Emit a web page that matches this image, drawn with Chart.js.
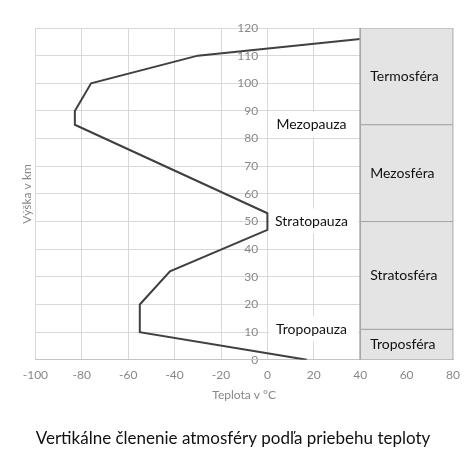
<!DOCTYPE html>
<html>
<head>
<meta charset="utf-8">
<script src="https://cdn.jsdelivr.net/npm/chart.js@4.4.1/dist/chart.umd.min.js"></script>
<style>
  html, body { margin: 0; padding: 0; background: #fff; }
  #wrap { width: 474px; height: 474px; }
</style>
</head>
<body>
<div id="wrap"><canvas id="atmoChart"></canvas></div>
<script>
// Temperature profile (x = temperature in °C, y = height in km)
const heights = [0, 10, 20, 32, 47, 53, 85, 90, 100, 110, 116];
const temps = [17, -55, -55, -42, 0, 0, -83, -83, -76, -30, 40];

// Atmosphere layers and their height bounds (km)
const layerNames = ['Troposféra', 'Stratosféra', 'Mezosféra', 'Termosféra'];
const layerBounds = [0, 11, 50, 85, 120];
const pauseNames = ['Tropopauza', 'Stratopauza', 'Mezopauza'];

// Axis ticks
const xTicks = [-100, -80, -60, -40, -20, 0, 20, 40, 60, 80];
const yTicks = [0, 10, 20, 30, 40, 50, 60, 70, 80, 90, 100, 110, 120];

const BOX_LEFT = 40;
const BOX_RIGHT = 80;
const LABEL_FONT = '14px Lato';

const profile = heights.map((h, i) => ({ x: temps[i], y: h }));

// One closed rectangle per layer, filled as a shape
const layerSets = layerNames.map((name, i) => {
    const lo = layerBounds[i];
    const hi = layerBounds[i + 1];
    return {
        label: name,
        data: [
            { x: BOX_LEFT, y: lo }, { x: BOX_RIGHT, y: lo },
            { x: BOX_RIGHT, y: hi }, { x: BOX_LEFT, y: hi },
            { x: BOX_LEFT, y: lo }
        ],
        showLine: true,
        fill: 'shape',
        backgroundColor: '#e4e4e4',
        borderColor: '#a5a5a5',
        borderWidth: 1,
        pointRadius: 0,
        tension: 0,
        yAxisID: 'y'
    };
});

// Text labels for layers and pauses
const labelPlugin = {
    id: 'layerLabels',
    beforeDatasetsDraw(chart) {
        const { ctx, scales: { x, y } } = chart;
        ctx.save();
        ctx.fillStyle = '#ffffff';
        pauseNames.forEach((name, i) => {
            const py = y.getPixelForValue(layerBounds[i + 1]);
            const left = x.getPixelForValue(0) + 2;
            const right = x.getPixelForValue(BOX_LEFT) - 2;
            ctx.fillRect(left, py - 13, right - left, 25);
        });
        ctx.restore();
    },
    afterDatasetsDraw(chart) {
        const { ctx, scales: { x, y } } = chart;
        ctx.save();
        ctx.font = LABEL_FONT;
        ctx.fillStyle = '#111111';
        ctx.textBaseline = 'middle';

        ctx.textAlign = 'left';
        layerNames.forEach((name, i) => {
            const mid = (layerBounds[i] + layerBounds[i + 1]) / 2;
            ctx.fillText(name, x.getPixelForValue(BOX_LEFT) + 10, y.getPixelForValue(mid));
        });

        ctx.textAlign = 'center';
        pauseNames.forEach((name, i) => {
            const py = y.getPixelForValue(layerBounds[i + 1]);
            ctx.fillText(name, x.getPixelForValue(19), py);
        });
        ctx.restore();
    }
};

new Chart(document.getElementById('atmoChart'), {
    type: 'scatter',
    data: {
        datasets: [
            ...layerSets,
            {
                label: 'Teplota',
                data: profile,
                showLine: true,
                borderColor: '#404040',
                borderWidth: 2,
                pointRadius: 0,
                tension: 0,
                fill: false,
                yAxisID: 'y'
            }
        ]
    },
    options: {
        responsive: true,
        maintainAspectRatio: false,
        animation: false,
        layout: {
            padding: { left: 13, right: 21, top: 28, bottom: 17 }
        },
        scales: {
            y: {
                type: 'linear',
                // labels sit just left of the 0 °C line, as in the original
                position: { x: -4 },
                min: 0,
                max: 120,
                afterBuildTicks: (axis) => { axis.ticks = yTicks.map(v => ({ value: v })); },
                ticks: {
                    color: '#888888',
                    font: { family: 'Lato', size: 12 }
                },
                grid: { color: '#d9d9d9', drawTicks: false },
                border: { display: false }
            },
            yTitle: {
                type: 'linear',
                axis: 'y',
                position: 'left',
                ticks: { display: false },
                grid: { display: false, drawTicks: false },
                border: { display: false },
                title: {
                    display: true,
                    text: 'Výška v km',
                    color: '#888888',
                    font: { family: 'Lato', size: 12 },
                    padding: { top: 7, bottom: 1 }
                }
            },
            x: {
                type: 'linear',
                position: 'bottom',
                min: -100,
                max: 80,
                afterBuildTicks: (axis) => { axis.ticks = xTicks.map(v => ({ value: v })); },
                ticks: {
                    color: '#888888',
                    font: { family: 'Lato', size: 12 },
                    padding: 8
                },
                grid: { color: '#d9d9d9', drawTicks: false },
                border: { color: '#c4c4c4' },
                title: {
                    display: true,
                    text: 'Teplota v °C',
                    color: '#888888',
                    font: { family: 'Lato', size: 12 },
                    padding: { top: -2, bottom: 4 }
                }
            }
        },
        plugins: {
            legend: { display: false },
            tooltip: { enabled: false },
            title: {
                display: true,
                position: 'bottom',
                text: 'Vertikálne členenie atmosféry podľa priebehu teploty',
                color: '#111111',
                font: { family: 'Lato', size: 17, weight: 'normal' },
                padding: { top: 22, bottom: 8 }
            }
        }
    },
    plugins: [labelPlugin]
});
</script>
</body>
</html>
